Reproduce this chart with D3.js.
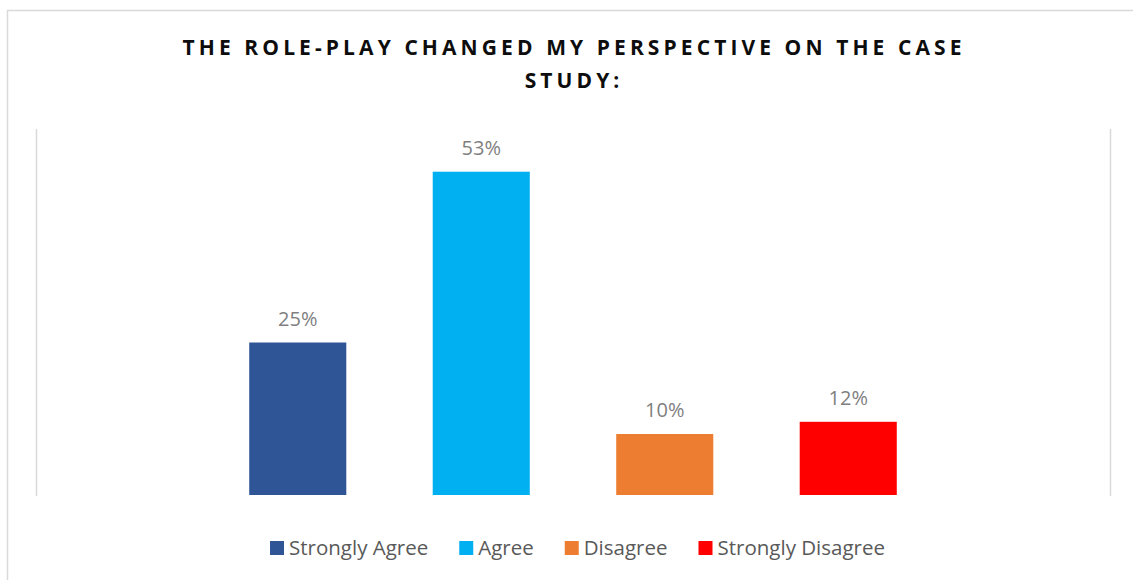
<!DOCTYPE html>
<html>
<head>
<meta charset="utf-8">
<script src="https://cdn.jsdelivr.net/npm/d3@7"></script>
<style>
  body { margin: 0; background: #fff; }
  svg { display: block; }
</style>
</head>
<body>
<svg id="chart" width="1133" height="580"></svg>
<script>
// data
var categories = ["Strongly Agree", "Agree", "Disagree", "Strongly Disagree"];
var values = [25, 53, 10, 12];
var colors = ["#2F5597", "#00B0F0", "#ED7D31", "#FF0000"];
var titleLines = ["THE ROLE-PLAY CHANGED MY PERSPECTIVE ON THE CASE", "STUDY:"];

var svg = d3.select("#chart");

var plot = {left: 36, right: 1110, top: 129, bottom: 495};

// outer frame
svg.append("rect")
  .attr("x", 7.5).attr("y", 10.5)
  .attr("width", 1140).attr("height", 600)
  .attr("fill", "none")
  .attr("stroke", "#d9d9d9")
  .attr("stroke-width", 1.5);

var x = d3.scaleBand()
  .domain(categories)
  .range([plot.left, plot.right])
  .paddingInner(0.471)
  .paddingOuter(1.162);

var y = d3.scaleLinear()
  .domain([0, 60])
  .range([plot.bottom, plot.top]);

// vertical category edges
svg.selectAll(".edge")
  .data([plot.left, plot.right])
  .enter().append("line")
  .attr("class", "edge")
  .attr("x1", function(d) { return d + 0.5; })
  .attr("x2", function(d) { return d + 0.5; })
  .attr("y1", plot.top)
  .attr("y2", plot.bottom + 1)
  .attr("stroke", "#d9d9d9")
  .attr("stroke-width", 1.5);

svg.selectAll(".bar")
  .data(values)
  .enter().append("rect")
  .attr("class", "bar")
  .attr("x", function(d, i) { return x(categories[i]); })
  .attr("y", function(d) { return y(d); })
  .attr("width", x.bandwidth())
  .attr("height", function(d) { return y(0) - y(d); })
  .attr("fill", function(d, i) { return colors[i]; });

svg.selectAll(".label")
  .data(values)
  .enter().append("text")
  .attr("class", "label")
  .attr("x", function(d, i) { return x(categories[i]) + x.bandwidth() / 2; })
  .attr("y", function(d) { return y(d) - 17; })
  .attr("text-anchor", "middle")
  .attr("font-family", "Open Sans, sans-serif")
  .attr("font-size", 20)
  .attr("fill", "#7f7f7f")
  .text(function(d) { return d + "%"; });

// title, spaced out so the first line is ~783px wide
var titles = svg.selectAll(".title")
  .data(titleLines)
  .enter().append("text")
  .attr("class", "title")
  .attr("x", 572)
  .attr("y", function(d, i) { return 55 + i * 33; })
  .attr("text-anchor", "middle")
  .attr("font-family", "Open Sans, sans-serif")
  .attr("font-weight", "bold")
  .attr("font-size", 21)
  .attr("fill", "#0d0d0d")
  .text(function(d) { return d; });

var first = titles.nodes()[0];
var ls = (783 - first.getComputedTextLength()) / titleLines[0].length;
titles.attr("letter-spacing", ls)
  .attr("dx", ls / 2);

// legend
var legend = svg.append("g");
var items = legend.selectAll(".item")
  .data(categories)
  .enter().append("g")
  .attr("class", "item");

items.append("rect")
  .attr("width", 14).attr("height", 14)
  .attr("y", 541)
  .attr("fill", function(d, i) { return colors[i]; });

items.append("text")
  .attr("x", 19)
  .attr("y", 555)
  .attr("font-family", "Open Sans, sans-serif")
  .attr("font-size", 20.5)
  .attr("fill", "#595959")
  .text(function(d) { return d; });

var pos = 0;
items.each(function() {
  var g = d3.select(this);
  g.attr("transform", "translate(" + pos + ",0)");
  pos += 19 + g.select("text").node().getComputedTextLength() + 31;
});
var total = pos - 31;
legend.attr("transform", "translate(" + (577.5 - total / 2) + ",0)");
</script>
</body>
</html>
